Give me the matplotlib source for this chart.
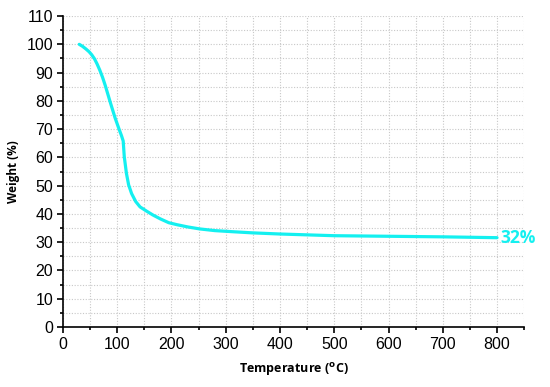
import numpy as np
import matplotlib
matplotlib.use("Agg")
import matplotlib.pyplot as plt
from matplotlib.ticker import MultipleLocator

# TGA curve
temperature = [30, 36, 42, 48, 53, 58, 63, 68, 73, 78, 87, 96, 103, 108, 111,
               113, 117, 121, 126.5, 134, 142, 154, 166, 180, 195, 210, 230,
               252, 280, 314, 350, 400, 450, 500, 600, 700, 800]
weight = [100, 99.3, 98.4, 97.4, 96.3, 94.9, 93.0, 90.8, 88.3, 85.4, 79.6, 74.0,
          70.2, 67.6, 65.8, 60.2, 54.3, 50.3, 47.2, 44.4, 42.5, 41.0, 39.6,
          38.2, 36.9, 36.2, 35.4, 34.7, 34.1, 33.7, 33.3, 32.9, 32.6, 32.3,
          32.1, 31.9, 31.6]
end_label = "32%"
line_color = "#14F0F0"

fig = plt.figure(figsize=(5.5, 3.87), dpi=100)
ax = fig.add_axes([0.1145, 0.155, 0.8385, 0.8035])

ax.plot(temperature, weight, color=line_color, lw=2.3, solid_capstyle="round",
        solid_joinstyle="round")
ax.text(temperature[-1] + 6, weight[-1], end_label, color=line_color,
        fontsize=12.5, fontweight="bold", family="Open Sans",
        va="center", ha="left")

ax.set_xlim(0, 850)
ax.set_ylim(0, 110)
ax.xaxis.set_major_locator(MultipleLocator(100))
ax.xaxis.set_minor_locator(MultipleLocator(50))
ax.yaxis.set_major_locator(MultipleLocator(10))
ax.yaxis.set_minor_locator(MultipleLocator(5))
ax.set_xticks(np.arange(0, 801, 100))

ax.grid(True, which="both", color="#c8c8c8", ls=(0, (1, 1.5)), lw=0.8)
ax.set_axisbelow(True)
for s in ("top", "right"):
    ax.spines[s].set_visible(False)
for s in ("left", "bottom"):
    ax.spines[s].set_linewidth(1.2)
ax.tick_params(which="major", direction="out", length=4, width=1.2,
               labelsize=11.5, pad=3)
ax.tick_params(which="minor", direction="out", length=2.5, width=1.2)
for lab in ax.get_xticklabels() + ax.get_yticklabels():
    lab.set_family("Liberation Sans")

ax.set_xlabel(r"Temperature ($\mathbf{^{o}}$C)", family="Open Sans",
              fontweight="bold", fontsize=9, labelpad=7)
ax.set_ylabel("Weight (%)", family="Open Sans", fontweight="bold",
              fontsize=8.5, labelpad=5)

fig.savefig("out.png", dpi=100)
